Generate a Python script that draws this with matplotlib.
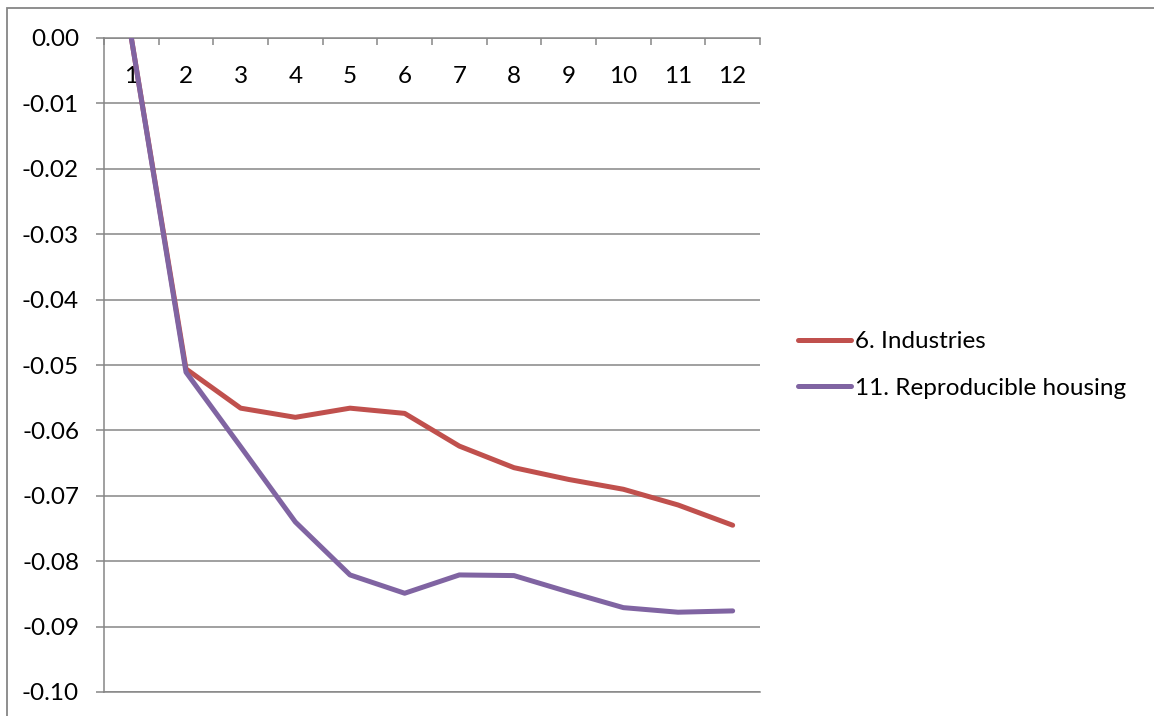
import numpy as np
import matplotlib
matplotlib.use("Agg")
import matplotlib.pyplot as plt
from matplotlib.patches import Rectangle
from matplotlib.ticker import FuncFormatter, FixedLocator

plt.rcParams['font.family'] = ['Lato', 'DejaVu Sans']

periods = list(range(1, 13))
industries = [0.0, -0.0506, -0.0566, -0.0580, -0.0566, -0.0574,
              -0.0624, -0.0657, -0.0675, -0.0690, -0.0714, -0.0745]
housing = [0.0, -0.0511, -0.0625, -0.0740, -0.0821, -0.0849,
           -0.0821, -0.0822, -0.0847, -0.0871, -0.0878, -0.0876]
series_labels = ["6. Industries", "11. Reproducible housing"]
series_colors = ["#C0504D", "#8064A2"]

W, H = 1154, 716
grid_col = "#868686"
fs = 17.5

fig = plt.figure(figsize=(W / 100, H / 100), dpi=100)
ax = fig.add_axes([104 / W, (H - 692) / H, (760 - 104) / W, (692 - 38) / H])

for vals, lab, col in zip([industries, housing], series_labels, series_colors):
    ax.plot(periods, vals, color=col, lw=3.6, label=lab,
            solid_capstyle="round", solid_joinstyle="round", zorder=3)

ax.set_xlim(0.5, 12.5)
ax.set_ylim(-0.10, 0.0)

# value axis on the left, every 0.01
ax.yaxis.set_major_locator(FixedLocator(np.round(np.arange(-0.10, 0.001, 0.01), 2)))
ax.yaxis.set_major_formatter(FuncFormatter(lambda v, _: f"{v + 0.0:.2f}".replace("-0.00", "0.00")))
ax.tick_params(axis="y", direction="out", length=6, width=1.1, color=grid_col,
               pad=12, labelsize=fs, labelcolor="black")
ax.grid(axis="y", color=grid_col, lw=1.1, zorder=1)

# category axis sits along y=0 at the top, labels hang below it
ax.xaxis.tick_top()
ax.set_xticks(periods)
ax.set_xticks(np.arange(0.5, 12.6, 1.0), minor=True)
ax.tick_params(axis="x", which="major", length=0, pad=-35, labelsize=fs,
               labelcolor="black")
ax.tick_params(axis="x", which="minor", direction="in", length=5, width=1.1,
               color=grid_col)

for side in ["top", "left", "bottom"]:
    ax.spines[side].set_color(grid_col)
    ax.spines[side].set_linewidth(1.1)
ax.spines["right"].set_visible(False)

ax.legend(loc="center left", bbox_to_anchor=(798 / W, 1 - 365 / H),
          bbox_transform=fig.transFigure, frameon=False, fontsize=fs,
          handlelength=2.2, handletextpad=0.15, labelspacing=1.05,
          borderpad=0, borderaxespad=0)

# chart area border
fig.patches.append(Rectangle((7, -20), W + 20, H - 8 + 20, transform=None,
                             fill=False, edgecolor=grid_col, lw=1.3))

fig.savefig("out.png", dpi=100)
